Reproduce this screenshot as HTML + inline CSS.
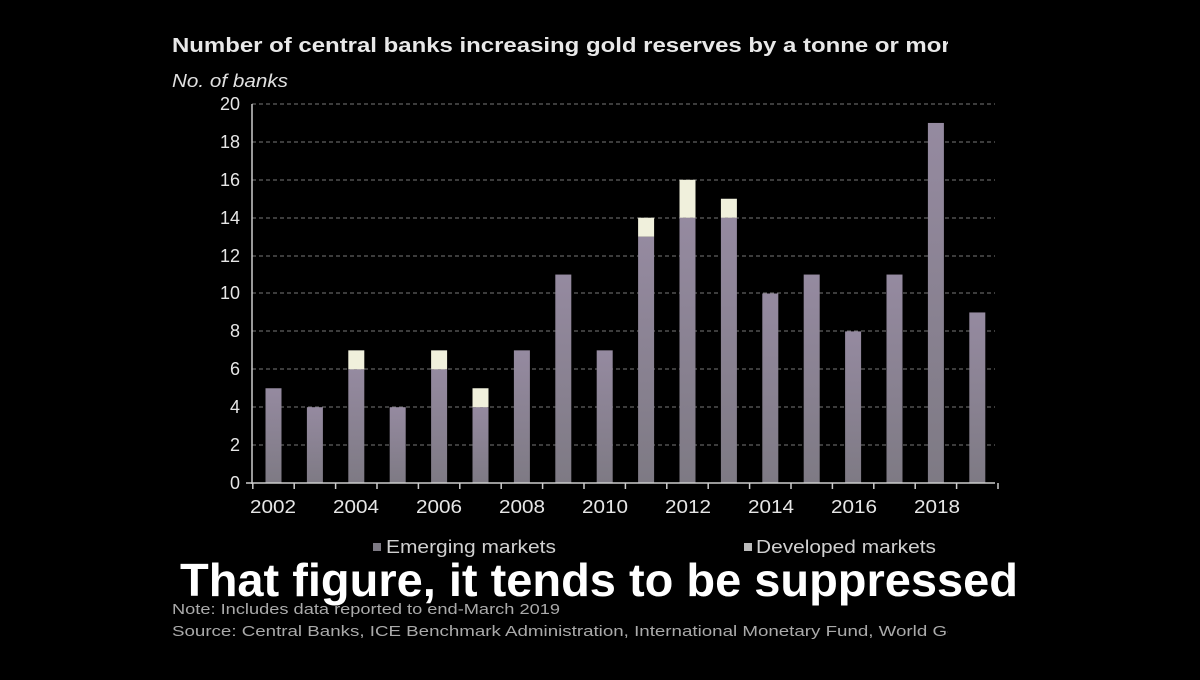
<!DOCTYPE html>
<html><head><meta charset="utf-8"><style>
body{margin:0;background:#000;width:1200px;height:675px;overflow:hidden;font-family:"Liberation Sans",sans-serif}
</style></head><body>
<svg width="1200" height="675" viewBox="0 0 1200 675" xmlns="http://www.w3.org/2000/svg" font-family="Liberation Sans, sans-serif">
<defs>
<linearGradient id="g" x1="0" y1="0" x2="0" y2="1"><stop offset="0" stop-color="#958aa0"/><stop offset="1" stop-color="#7e7a84"/></linearGradient>
<clipPath id="c"><rect x="0" y="0" width="948" height="675"/></clipPath>
</defs>
<text x="172" y="52" fill="#e8e8e8" font-size="20" font-weight="bold" clip-path="url(#c)" textLength="792" lengthAdjust="spacingAndGlyphs">Number of central banks increasing gold reserves by a tonne or more</text>
<text x="172" y="87" fill="#e0e0e0" font-size="18" font-style="italic" textLength="116" lengthAdjust="spacingAndGlyphs">No. of banks</text>
<g stroke="#777" stroke-width="1" stroke-dasharray="4,3">
<line x1="252" x2="995" y1="104" y2="104"/><line x1="252" x2="995" y1="142" y2="142"/><line x1="252" x2="995" y1="180" y2="180"/><line x1="252" x2="995" y1="218" y2="218"/><line x1="252" x2="995" y1="256" y2="256"/><line x1="252" x2="995" y1="293" y2="293"/><line x1="252" x2="995" y1="331" y2="331"/><line x1="252" x2="995" y1="369" y2="369"/><line x1="252" x2="995" y1="407" y2="407"/><line x1="252" x2="995" y1="445" y2="445"/>
</g>
<g fill="#e6e6e6" font-size="18" text-anchor="end">
<text x="240" y="110">20</text><text x="240" y="148">18</text><text x="240" y="186">16</text><text x="240" y="224">14</text><text x="240" y="262">12</text><text x="240" y="299">10</text><text x="240" y="337">8</text><text x="240" y="375">6</text><text x="240" y="413">4</text><text x="240" y="451">2</text><text x="240" y="489">0</text>
</g>
<g id="bars"></g>
<line x1="252" y1="104" x2="252" y2="484" stroke="#ccc" stroke-width="1.5"/>
<line x1="246" y1="483" x2="995" y2="483" stroke="#ccc" stroke-width="1.5"/>
<g id="ticks" stroke="#ccc" stroke-width="1.5"></g>
<g fill="#e6e6e6" font-size="18">
<text x="250" y="513" textLength="46" lengthAdjust="spacingAndGlyphs">2002</text><text x="333" y="513" textLength="46" lengthAdjust="spacingAndGlyphs">2004</text><text x="416" y="513" textLength="46" lengthAdjust="spacingAndGlyphs">2006</text><text x="499" y="513" textLength="46" lengthAdjust="spacingAndGlyphs">2008</text><text x="582" y="513" textLength="46" lengthAdjust="spacingAndGlyphs">2010</text><text x="665" y="513" textLength="46" lengthAdjust="spacingAndGlyphs">2012</text><text x="748" y="513" textLength="46" lengthAdjust="spacingAndGlyphs">2014</text><text x="831" y="513" textLength="46" lengthAdjust="spacingAndGlyphs">2016</text><text x="914" y="513" textLength="46" lengthAdjust="spacingAndGlyphs">2018</text>
</g>
<rect x="373" y="543" width="8" height="8" fill="#7e7a84"/>
<text x="386" y="553" fill="#d0d0d0" font-size="18" textLength="170" lengthAdjust="spacingAndGlyphs">Emerging markets</text>
<rect x="744" y="543" width="8" height="8" fill="#bbb"/>
<text x="756" y="553" fill="#d0d0d0" font-size="18" textLength="180" lengthAdjust="spacingAndGlyphs">Developed markets</text>
<text x="172" y="614" fill="#aaa" font-size="15" textLength="388" lengthAdjust="spacingAndGlyphs">Note: Includes data reported to end-March 2019</text>
<text x="172" y="636" fill="#aaa" font-size="15" clip-path="url(#c)" textLength="800" lengthAdjust="spacingAndGlyphs">Source: Central Banks, ICE Benchmark Administration, International Monetary Fund, World Gold</text>
<text x="599" y="596" fill="#fff" font-size="46" font-weight="bold" text-anchor="middle" stroke="#000" stroke-width="1" paint-order="stroke" textLength="838" lengthAdjust="spacingAndGlyphs">That figure, it tends to be suppressed</text>
<script>
var em=[5,4,6,4,6,4,7,11,7,13,14,14,10,11,8,11,19,9],dm=[0,0,1,0,1,1,0,0,0,1,2,1,0,0,0,0,0,0];
var u=18.95,b=483,ns='http://www.w3.org/2000/svg';
var g=document.getElementById('bars'),t=document.getElementById('ticks');
for(var i=0;i<18;i++){var cx=273.5+i*41.4,x=cx-8;
var r=document.createElementNS(ns,'rect');r.setAttribute('x',x);r.setAttribute('width',16);r.setAttribute('y',b-em[i]*u);r.setAttribute('height',em[i]*u);r.setAttribute('fill','url(#g)');g.appendChild(r);
if(dm[i]){var d=document.createElementNS(ns,'rect');d.setAttribute('x',x);d.setAttribute('width',16);d.setAttribute('y',b-(em[i]+dm[i])*u);d.setAttribute('height',dm[i]*u);d.setAttribute('fill','#f0f0dc');g.appendChild(d);}
}
for(var i=0;i<=18;i++){var tx=252.8+i*41.4;var l=document.createElementNS(ns,'line');l.setAttribute('x1',tx);l.setAttribute('x2',tx);l.setAttribute('y1',483);l.setAttribute('y2',489);t.appendChild(l);}
</script>
</svg>
</body></html>
